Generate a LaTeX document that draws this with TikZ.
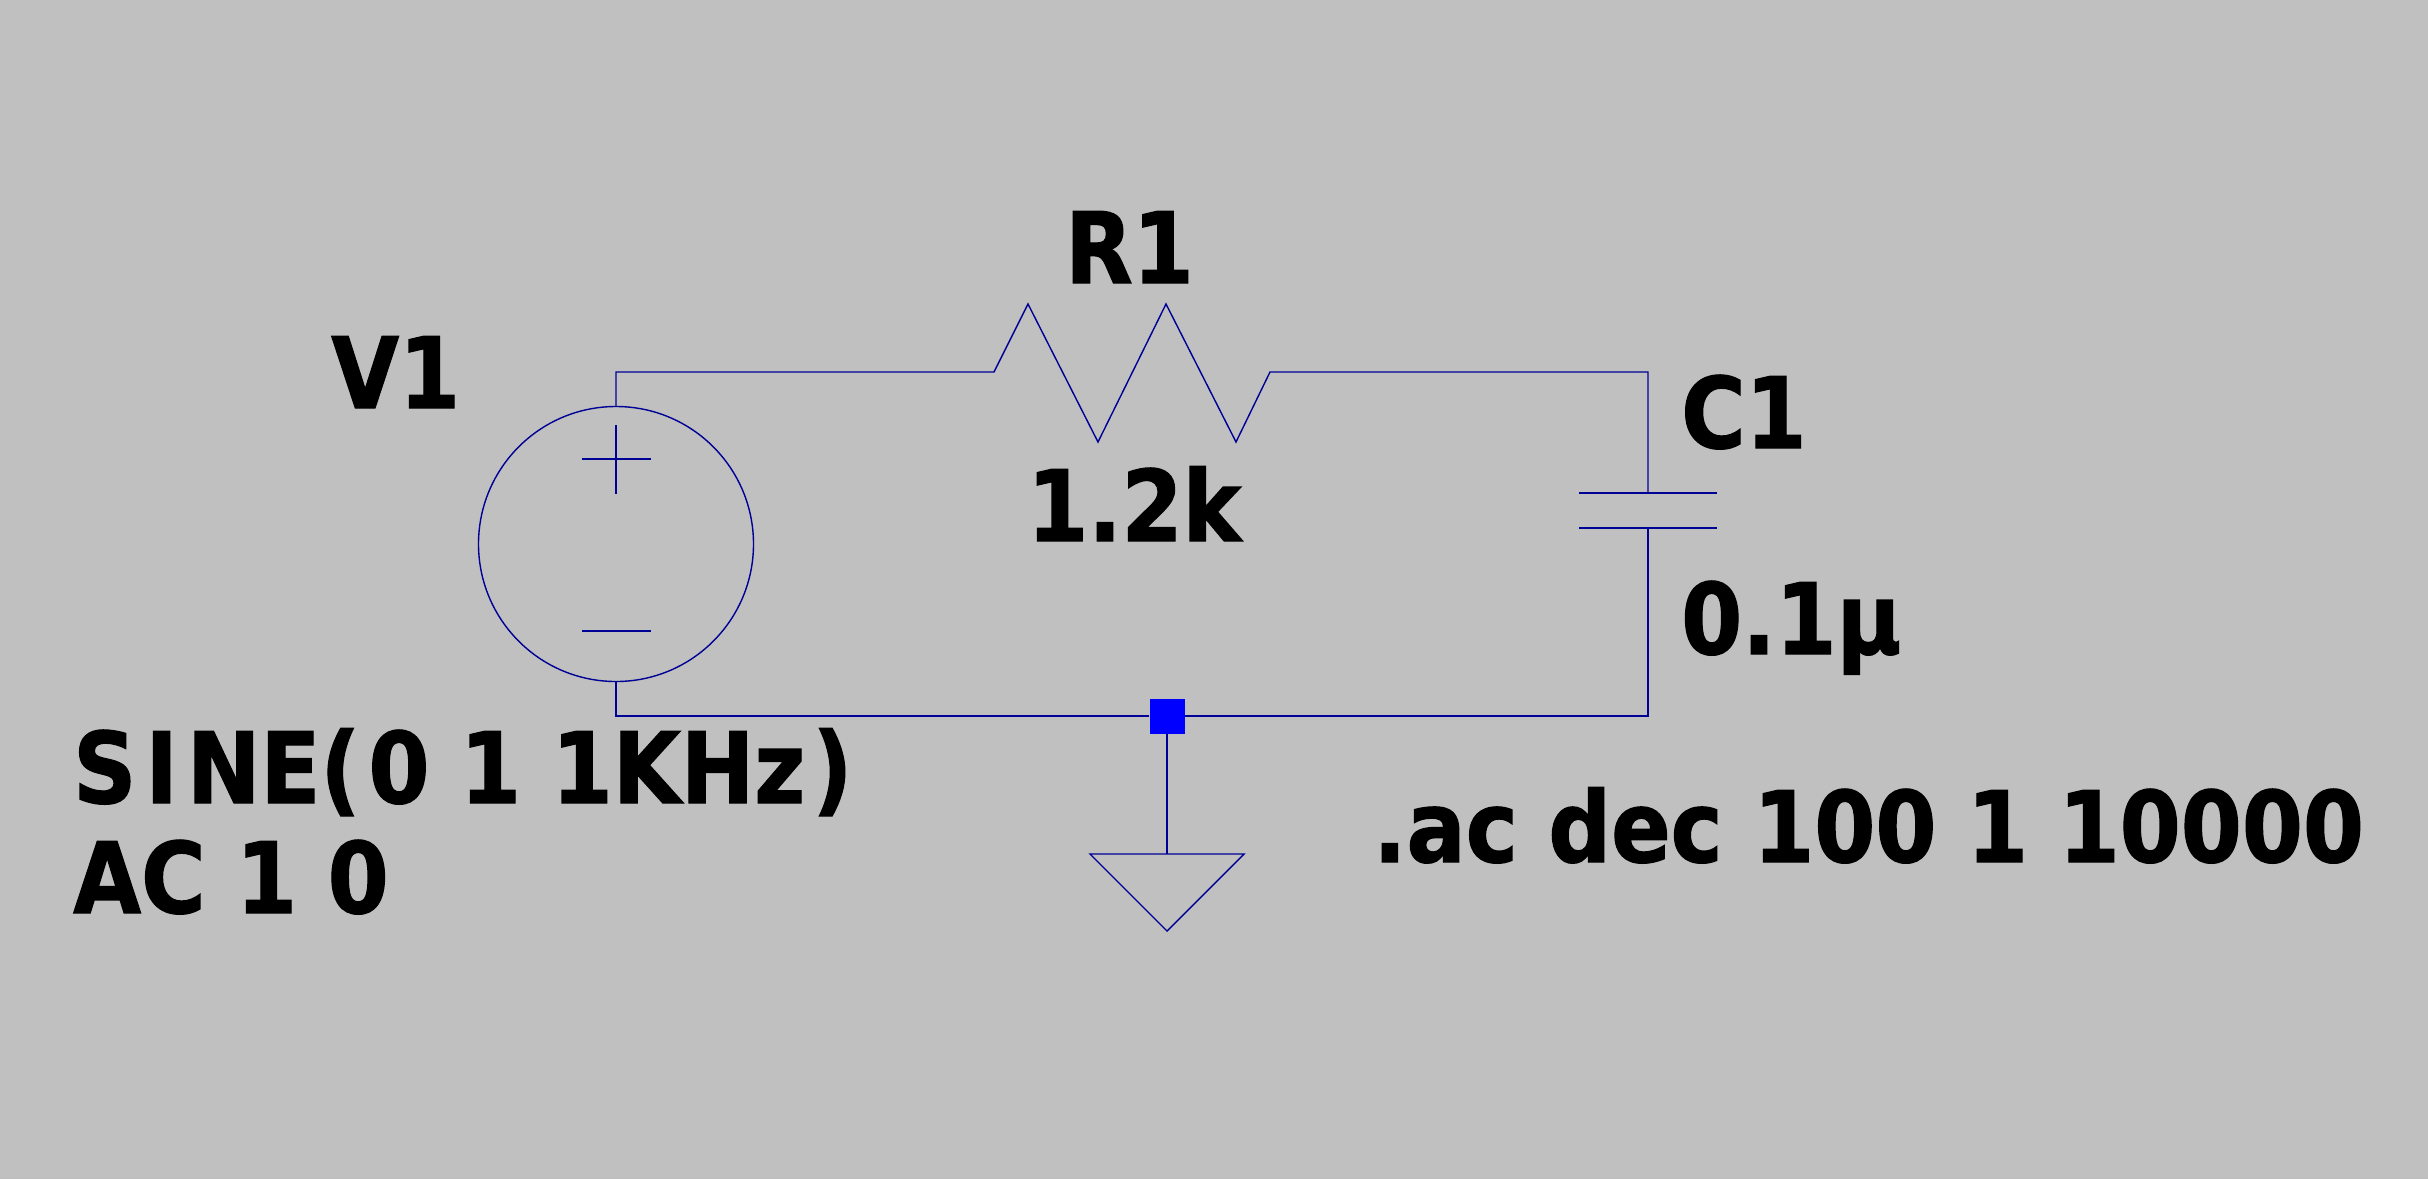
\documentclass[tikz,border=0pt]{standalone}
\usepackage{fontspec}
\newfontfamily\lblfont[FakeStretch=0.89,BoldFeatures={FakeBold=1.2}]{DejaVu Sans}
\usepackage{xcolor}
\usetikzlibrary{positioning, calc}
\definecolor{wirecol}{RGB}{0,0,150}
\definecolor{sheetcol}{RGB}{192,192,192}
\definecolor{junctioncol}{RGB}{0,0,255}

\begin{document}
\begin{tikzpicture}[
    x=1pt, y=-1pt,
    wire/.style   = {draw=wirecol, line width=1.4pt},
    lbl/.style    = {font=\lblfont\fontsize{98.6}{110}\selectfont\bfseries, text=black, inner sep=0pt, anchor=base west},
    junction/.style = {rectangle, fill=junctioncol, minimum size=35pt, inner sep=0pt}
]
\fill[sheetcol] (0,0) rectangle (2428,1179);
\useasboundingbox (0,0) rectangle (2428,1179);

% ========= nodes =========
\coordinate (topleft)  at (616,372);
\coordinate (rleft)    at (994,372);
\coordinate (rright)   at (1270,372);
\coordinate (topright) at (1648,372);
\coordinate (capt)     at (1648,493);
\coordinate (capb)     at (1648,528);
\coordinate (botright) at (1648,716);
\coordinate (botleft)  at (616,716);
\node[circle, wire, minimum size=275pt, inner sep=0pt] (src) at (616,544) {};
\node[junction] (jn) at (1167,716) {};
\coordinate (gndtop) at (1167,854);

% ========= wires =========
\draw[wire] (src.north) -- (topleft) -- (rleft)
   -- (1028,304) -- (1098,442) -- (1166,304) -- (1236,442) -- (rright)
   -- (topright) -- (capt);
\draw[wire] (capb) -- (botright) -- (jn);
\draw[wire] (jn) -- (botleft) -- (src.south);
\draw[wire] (jn) -- (gndtop);

% ========= symbols =========
\draw[wire] (1579,493) -- (1717,493);
\draw[wire] (1579,528) -- (1717,528);
\draw[wire] (1090,854) -- (1244,854) -- (1167,931) -- cycle;
\draw[wire] (582,459) -- (651,459);
\draw[wire] (616,425) -- (616,494);
\draw[wire] (582,631) -- (651,631);

% ========= labels =========
\node[lbl] (r1)    at (1065,283)  {R1};
\node[lbl] (v1)    at (331,408)   {V1};
\node[lbl] (c1)    at (1681,448)  {C1};
\node[lbl] (rval)  at (1027,541)  {1.2k};
\node[lbl] (cval)  at (1681,654)  {0.1µ};
\node[lbl] (sine)  at (73,803)    {S\kern9pt I\kern9pt NE(\kern8pt 0 1 1KHz\kern7pt )};
\node[lbl] (acval) at (73,913)    {AC 1 0};
\node[lbl] (cmd)   at (1373,862)  {.ac dec 100 1 10000};
\end{tikzpicture}
\end{document}
